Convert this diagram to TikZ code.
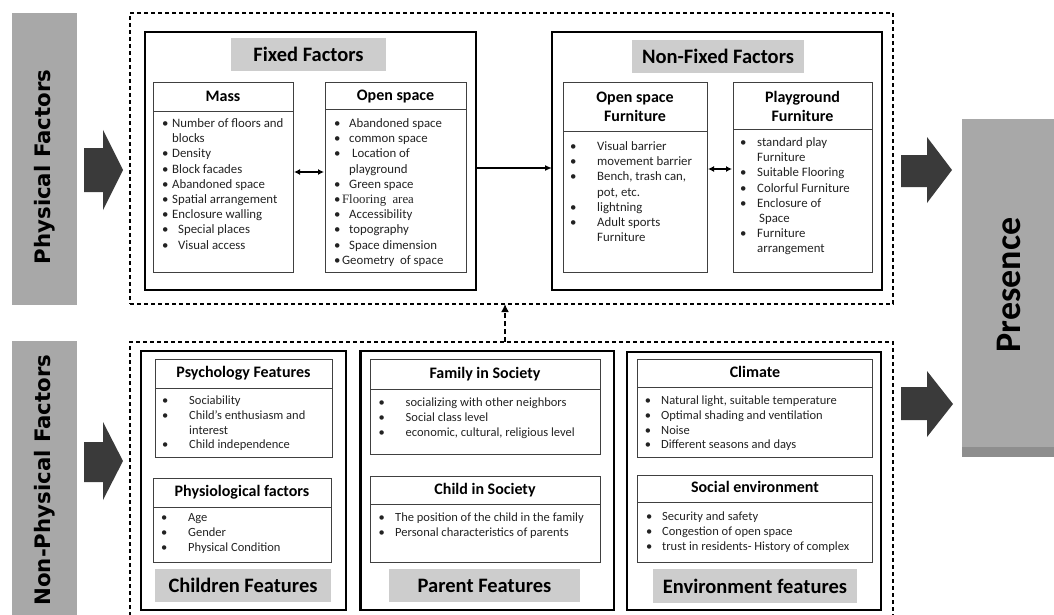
\documentclass[tikz,border=0pt]{standalone}
\usepackage{fontspec}
\setmainfont{Carlito}
\newfontfamily\dejavu{DejaVu Sans}
\newfontfamily\timesf{Liberation Serif}
\usetikzlibrary{arrows.meta}

\definecolor{sidegray}{HTML}{A8A8A8}
\definecolor{shadowgray}{HTML}{8E8E8E}
\definecolor{labgray}{HTML}{CDCDCD}
\definecolor{arrowdark}{HTML}{3A3A3A}
\definecolor{boxline}{HTML}{404040}
\definecolor{txt}{HTML}{222222}

\newcommand{\rect}[6]{\node[#6, anchor=north west, minimum width={#4-#2}, minimum height={#5-#3}] (#1) at (#2,#3) {};}
\newcommand{\blist}[2]{\begin{tabular}[t]{@{}p{#1pt}@{}l@{}}#2\end{tabular}}

\tikzset{
  outerbox/.style={draw=black, line width=2.4pt, inner sep=0pt, outer sep=0pt},
  innerbox/.style={draw=boxline, line width=1pt, inner sep=0pt, outer sep=0pt},
  hline/.style={draw=boxline, line width=1pt},
  dashbox/.style={draw=black, line width=1.5pt, dash pattern=on 4pt off 3pt, inner sep=0pt, outer sep=0pt},
  sidebox/.style={fill=sidegray, draw=none, inner sep=0pt, outer sep=0pt},
  labelbox/.style={fill=labgray, draw=none, inner sep=0pt, outer sep=0pt, font=\fontsize{20.5}{24}\selectfont\bfseries},
  hdr/.style={font=\fontsize{16}{18.5}\selectfont\bfseries, align=center, inner sep=0pt, text height=11pt, text depth=3pt},
  hdrtwo/.style={font=\fontsize{16}{18.5}\selectfont\bfseries, align=center, inner sep=0pt},
  ulist/.style={anchor=base west, inner sep=0pt, font=\fontsize{12.8}{15.2}\selectfont, text=txt},
  llist/.style={anchor=base west, inner sep=0pt, font=\fontsize{12.5}{14.8}\selectfont, text=txt},
  sidetext/.style={rotate=90, inner sep=0pt, font=\dejavu\bfseries\fontsize{21.3}{24}\selectfont},
  blockarrow/.style={fill=arrowdark},
  conn/.style={line width=1.8pt, -{Latex[length=7pt,width=6pt]}},
  dconn/.style={line width=1.6pt, {Latex[length=6pt,width=6pt]}-{Latex[length=6pt,width=6pt]}, shorten <=1pt, shorten >=1pt},
  upconn/.style={line width=2pt, dash pattern=on 5pt off 3pt, -{Latex[length=8pt,width=8pt]}},
}

\begin{document}
\begin{tikzpicture}[x=1pt, y=-1pt]
\useasboundingbox (0,0) rectangle (1054,615);

% side boxes
\rect{phys}{12}{13}{77}{305}{sidebox}
\rect{nonphys}{12}{341}{77}{615}{sidebox}
\fill[shadowgray] (962,128) rectangle (1054,457);
\rect{presence}{962}{119}{1054}{447}{sidebox}
\node[sidetext] (physt) at (44.5,167) {Physical Factors};
\node[sidetext] (nonphyst) at (44.5,480) {Non-Physical Factors};
\node[rotate=90, inner sep=0pt, font=\fontsize{36}{40}\selectfont\bfseries] (prest) at (1009,285) {Presence};

% block arrows
\fill[blockarrow] (84,148) -- (103,148) -- (103,130) -- (123,170) -- (103,210) -- (103,192) -- (84,192) -- cycle;
\fill[blockarrow] (84,442) -- (103,442) -- (103,422) -- (123,461) -- (103,500) -- (103,482) -- (84,482) -- cycle;
\fill[blockarrow] (901,155) -- (927,155) -- (927,137) -- (952,170) -- (927,203) -- (927,187) -- (901,187) -- cycle;
\fill[blockarrow] (901,387) -- (927,387) -- (927,371) -- (953,404) -- (927,437) -- (927,420) -- (901,420) -- cycle;

% dashed groups
\rect{updash}{130}{13}{893}{304}{dashbox}
\draw[dashbox] (130,616) -- (130,342) -- (893,342) -- (893,616);
\coordinate (lowtop) at (505,342);

% ===== Upper part =====
\rect{fixed}{145}{32}{476}{290}{outerbox}
\rect{nonfixed}{552}{32}{882}{290}{outerbox}
\node[labelbox, minimum width=155, minimum height=33] (fixedlab) at (308.5,54.5) {Fixed Factors};
\node[labelbox, minimum width=172, minimum height=33] (nonfixedlab) at (718,56.5) {Non-Fixed Factors};

\rect{mass}{153}{83}{293}{272}{innerbox}
\draw[hline] (mass.west |- 0,112) -- (mass.east |- 0,112);
\node[hdr] (massh) at (223,97.5) {Mass};
\node[ulist] (massl) at (162,127.5) {\blist{10}{%
\textbullet & Number of floors and\\
 & blocks\\
\textbullet & Density\\
\textbullet & Block facades\\
\textbullet & Abandoned space\\
\textbullet & Spatial arrangement\\
\textbullet & Enclosure walling\\
\textbullet & \hspace{6pt}Special places\\
\textbullet & \hspace{6pt}Visual access}};

\rect{open}{325}{83}{466}{272}{innerbox}
\draw[hline] (open.west |- 0,110) -- (open.east |- 0,110);
\node[hdr] (openh) at (395.5,96.5) {Open space};
\node[ulist] (openl) at (334,127.5) {\blist{15}{%
\textbullet & Abandoned space\\
\textbullet & common space\\
\textbullet & \hspace{3pt}Location of\\
 & playground\\
\textbullet & Green space\\
\multicolumn{2}{@{}l@{}}{\textbullet\hspace{1.5pt}{\timesf Flooring\ \ area}}\\
\textbullet & Accessibility\\
\textbullet & topography\\
\textbullet & Space dimension\\
\multicolumn{2}{@{}l@{}}{\textbullet\hspace{1.5pt}Geometry\ \ of space}}};

\rect{osf}{563}{83}{707}{272}{innerbox}
\draw[hline] (osf.west |- 0,132) -- (osf.east |- 0,132);
\node[hdrtwo] (osfh) at (635,107) {Open space\\Furniture};
\node[ulist] (osfl) at (570,150.5) {\blist{27}{%
\textbullet & Visual barrier\\
\textbullet & movement barrier\\
\textbullet & Bench, trash can,\\
 & pot, etc.\\
\textbullet & lightning\\
\textbullet & Adult sports\\
 & Furniture}};

\rect{play}{733}{83}{872}{272}{innerbox}
\draw[hline] (play.west |- 0,130) -- (play.east |- 0,130);
\node[hdrtwo] (playh) at (802.5,106.5) {Playground\\Furniture};
\node[ulist] (playl) at (740,146.5) {\blist{17}{%
\textbullet & standard play\\
 & Furniture\\
\textbullet & Suitable Flooring\\
\textbullet & Colorful Furniture\\
\textbullet & Enclosure of\\
 & \hspace{2pt}Space\\
\textbullet & Furniture\\
 & arrangement}};

\draw[dconn] (mass.east |- 0,172) -- (open.west |- 0,172);
\draw[dconn] (osf.east |- 0,169) -- (play.west |- 0,169);
\draw[conn] (fixed.east |- 0,168) -- (nonfixed.west |- 0,168);

% ===== Lower part =====
\rect{children}{141}{351}{346}{610}{outerbox}
\rect{parent}{360.5}{351}{614}{610}{outerbox}
\rect{environ}{627}{352}{881}{610}{outerbox}

\rect{psych}{155}{359}{332}{457}{innerbox}
\draw[hline] (psych.west |- 0,388) -- (psych.east |- 0,388);
\node[hdr] (psychh) at (243.5,373.5) {Psychology Features};
\node[llist] (psychl) at (162,404.5) {\blist{27}{%
\textbullet & Sociability\\
\textbullet & Child's enthusiasm and\\
 & interest\\
\textbullet & Child independence}};

\rect{physio}{153}{478}{331}{562}{innerbox}
\draw[hline] (physio.west |- 0,507) -- (physio.east |- 0,507);
\node[hdr] (physioh) at (242,492) {Physiological factors};
\node[llist] (physiol) at (161,521.4) {\blist{27}{%
\textbullet & Age\\
\textbullet & Gender\\
\textbullet & Physical Condition}};

\rect{family}{370}{359}{600}{454}{innerbox}
\draw[hline] (family.west |- 0,389) -- (family.east |- 0,389);
\node[hdr] (familyh) at (485,374) {Family in Society};
\node[llist] (familyl) at (378.5,406.4) {\blist{27}{%
\textbullet & socializing with other neighbors\\
\textbullet & Social class level\\
\textbullet & economic, cultural, religious level}};

\rect{childsoc}{370}{476}{600}{562}{innerbox}
\draw[hline] (childsoc.west |- 0,504) -- (childsoc.east |- 0,504);
\node[hdr] (childsoch) at (485,490) {Child in Society};
\node[llist] (childsocl) at (378.5,521.4) {\blist{16.5}{%
\textbullet & The position of the child in the family\\
\textbullet & Personal characteristics of parents}};

\rect{climate}{637.5}{359}{872.5}{457}{innerbox}
\draw[hline] (climate.west |- 0,387) -- (climate.east |- 0,387);
\node[hdr] (climateh) at (755,373) {Climate};
\node[llist] (climatel) at (644.7,404.4) {\blist{16.3}{%
\textbullet & Natural light, suitable temperature\\
\textbullet & Optimal shading and ventilation\\
\textbullet & Noise\\
\textbullet & Different seasons and days}};

\rect{social}{637.5}{475}{872.5}{562}{innerbox}
\draw[hline] (social.west |- 0,502) -- (social.east |- 0,502);
\node[hdr] (socialh) at (755,488.5) {Social environment};
\node[llist] (sociall) at (646,520.4) {\blist{16}{%
\textbullet & Security and safety\\
\textbullet & Congestion of open space\\
\textbullet & trust in residents- History of complex}};

\node[labelbox, minimum width=176, minimum height=33] (childlab) at (243,585.5) {Children Features};
\node[labelbox, minimum width=191, minimum height=33] (parentlab) at (484.5,585.5) {Parent Features};
\node[labelbox, minimum width=204, minimum height=34] (envlab) at (755,586) {Environment features};

% dashed arrow from lower group to upper group
\draw[upconn] (lowtop) -- (lowtop |- updash.south);

\end{tikzpicture}
\end{document}
